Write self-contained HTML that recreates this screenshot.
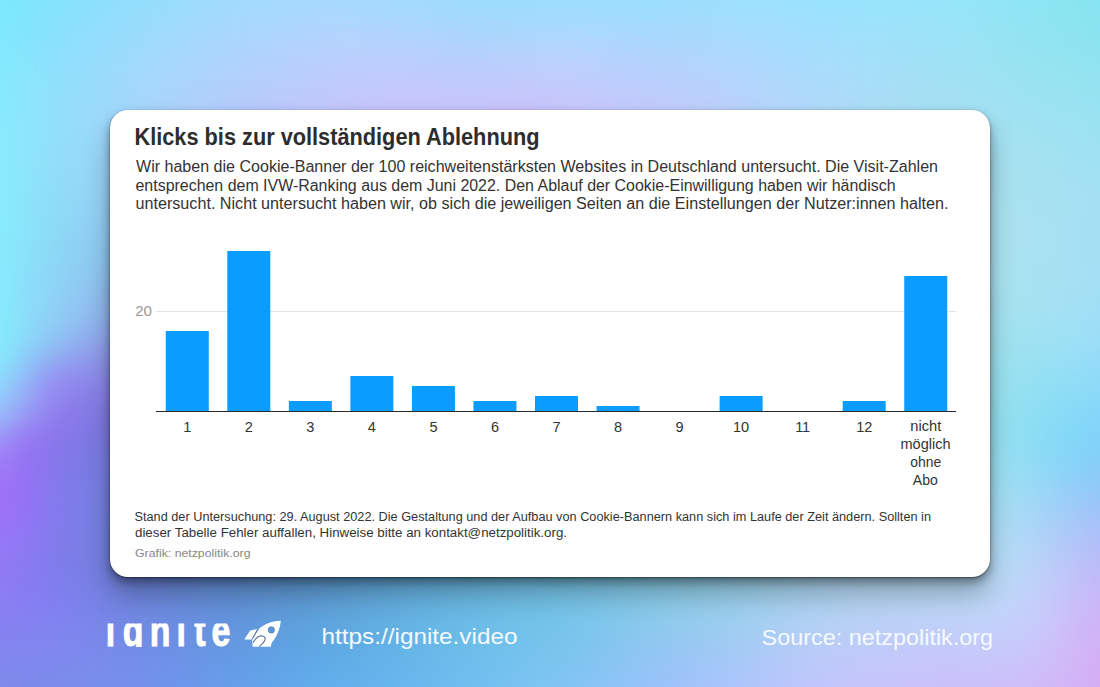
<!DOCTYPE html>
<html lang="de">
<head>
<meta charset="utf-8">
<title>Klicks bis zur vollständigen Ablehnung</title>
<style>
html,body{margin:0;padding:0;}
body{width:1100px;height:687px;overflow:hidden;position:relative;font-family:"Liberation Sans",Arial,sans-serif;background:#8fc8f2;}
#bgwrap{position:absolute;left:0;top:0;width:1100px;height:687px;overflow:hidden;}
#bg{position:absolute;left:-50px;top:-48px;width:1200px;height:790px;filter:blur(8px);}
#bg div{position:absolute;left:0;width:1200px;height:13px;}
.card{position:absolute;left:110px;top:110px;width:880px;height:467px;background:#fff;border-radius:18px;box-shadow:0 0 1px rgba(0,0,0,0.2),0 1px 2px rgba(0,0,0,0.4),0 5px 10px rgba(0,0,0,0.35),0 18px 26px rgba(0,0,0,0.25);}
svg.ov{position:absolute;left:0;top:0;}
</style>
</head>
<body>
<div id="bgwrap"><div id="bg"><div style="top:0px;background:linear-gradient(90deg,#7aeafc 0px,#7aeafc 25px,#7aeafc 50px,#7ee7fc 75px,#82e4fc 100px,#87e2fc 125px,#8ce0fc 150px,#90dffc 175px,#94ddfc 200px,#98dcfc 225px,#9cdcfd 250px,#9fdbfd 275px,#a2dbfe 300px,#a4dafe 325px,#a5dafe 350px,#a6dafe 375px,#a5dafe 400px,#a4dbfe 425px,#a2dbfe 450px,#a0dbfe 475px,#9ddcfd 500px,#9bdcfc 525px,#9addfc 550px,#9addfd 575px,#9bdefe 600px,#9bdefe 625px,#9bdefe 650px,#9bdefe 675px,#9adffe 700px,#9bdffe 725px,#9bdffd 750px,#9be0fd 775px,#9be1fd 800px,#9be2fd 825px,#9ae2fd 850px,#99e3fd 875px,#99e4fc 900px,#98e4fb 925px,#97e4fb 950px,#97e5fa 975px,#95e5f9 1000px,#93e5f7 1025px,#90e5f5 1050px,#8de5f3 1075px,#8ae5f2 1100px,#87e5f0 1125px,#85e5f0 1150px,#85e5f0 1175px,#85e5f0 1200px)"></div><div style="top:12px;background:linear-gradient(90deg,#7aeafc 0px,#7aeafc 25px,#7aeafc 50px,#7ee7fc 75px,#82e4fc 100px,#87e2fc 125px,#8ce0fc 150px,#90dffc 175px,#94ddfc 200px,#98dcfc 225px,#9cdcfd 250px,#9fdbfd 275px,#a2dbfe 300px,#a4dafe 325px,#a5dafe 350px,#a6dafe 375px,#a5dafe 400px,#a4dbfe 425px,#a2dbfe 450px,#a0dbfe 475px,#9ddcfd 500px,#9bdcfc 525px,#9addfc 550px,#9addfd 575px,#9bdefe 600px,#9bdefe 625px,#9bdefe 650px,#9bdefe 675px,#9adffe 700px,#9bdffe 725px,#9bdffd 750px,#9be0fd 775px,#9be1fd 800px,#9be2fd 825px,#9ae2fd 850px,#99e3fd 875px,#99e4fc 900px,#98e4fb 925px,#97e4fb 950px,#97e5fa 975px,#95e5f9 1000px,#93e5f7 1025px,#90e5f5 1050px,#8de5f3 1075px,#8ae5f2 1100px,#87e5f0 1125px,#85e5f0 1150px,#85e5f0 1175px,#85e5f0 1200px)"></div><div style="top:24px;background:linear-gradient(90deg,#7aeafc 0px,#7aeafc 25px,#7aeafc 50px,#7ee7fc 75px,#82e4fc 100px,#87e2fc 125px,#8ce0fc 150px,#90dffc 175px,#94ddfc 200px,#98dcfc 225px,#9cdcfd 250px,#9fdbfd 275px,#a2dbfe 300px,#a4dafe 325px,#a5dafe 350px,#a6dafe 375px,#a5dafe 400px,#a4dbfe 425px,#a2dbfe 450px,#a0dbfe 475px,#9ddcfd 500px,#9bdcfc 525px,#9addfc 550px,#9addfd 575px,#9bdefe 600px,#9bdefe 625px,#9bdefe 650px,#9bdefe 675px,#9adffe 700px,#9bdffe 725px,#9bdffd 750px,#9be0fd 775px,#9be1fd 800px,#9be2fd 825px,#9ae2fd 850px,#99e3fd 875px,#99e4fc 900px,#98e4fb 925px,#97e4fb 950px,#97e5fa 975px,#95e5f9 1000px,#93e5f7 1025px,#90e5f5 1050px,#8de5f3 1075px,#8ae5f2 1100px,#87e5f0 1125px,#85e5f0 1150px,#85e5f0 1175px,#85e5f0 1200px)"></div><div style="top:36px;background:linear-gradient(90deg,#7aeafc 0px,#7aeafc 25px,#7aeafc 50px,#7ee7fc 75px,#82e4fc 100px,#87e2fc 125px,#8ce0fc 150px,#90dffc 175px,#94ddfc 200px,#98dcfc 225px,#9cdcfd 250px,#9fdbfd 275px,#a2dbfe 300px,#a4dafe 325px,#a5dafe 350px,#a6dafe 375px,#a5dafe 400px,#a4dbfe 425px,#a2dbfe 450px,#a0dbfe 475px,#9ddcfd 500px,#9bdcfc 525px,#9addfc 550px,#9addfd 575px,#9bdefe 600px,#9bdefe 625px,#9bdefe 650px,#9bdefe 675px,#9adffe 700px,#9bdffe 725px,#9bdffd 750px,#9be0fd 775px,#9be1fd 800px,#9be2fd 825px,#9ae2fd 850px,#99e3fd 875px,#99e4fc 900px,#98e4fb 925px,#97e4fb 950px,#97e5fa 975px,#95e5f9 1000px,#93e5f7 1025px,#90e5f5 1050px,#8de5f3 1075px,#8ae5f2 1100px,#87e5f0 1125px,#85e5f0 1150px,#85e5f0 1175px,#85e5f0 1200px)"></div><div style="top:48px;background:linear-gradient(90deg,#7beafc 0px,#7beafc 25px,#7beafc 50px,#7fe6fc 75px,#83e3fc 100px,#88e1fc 125px,#8ddffc 150px,#92defc 175px,#96ddfc 200px,#9adcfc 225px,#9edbfd 250px,#a1dafd 275px,#a3dafe 300px,#a5d9fe 325px,#a7d9fe 350px,#a8d9fe 375px,#a8d9fe 400px,#a6d9fe 425px,#a4dafe 450px,#a2dafe 475px,#a0dbfd 500px,#9edbfc 525px,#9cdcfc 550px,#9ddcfd 575px,#9eddfe 600px,#9eddfe 625px,#9eddfe 650px,#9dddfe 675px,#9cdefe 700px,#9ddefe 725px,#9ddefd 750px,#9ddffd 775px,#9de0fd 800px,#9ce1fd 825px,#9be2fd 850px,#9be3fd 875px,#9ae3fc 900px,#99e4fb 925px,#99e4fa 950px,#98e4fa 975px,#96e5f8 1000px,#94e5f7 1025px,#91e5f5 1050px,#8ee5f3 1075px,#8be5f2 1100px,#88e5f0 1125px,#86e4f0 1150px,#86e4f0 1175px,#86e4f0 1200px)"></div><div style="top:60px;background:linear-gradient(90deg,#7ceafc 0px,#7ceafc 25px,#7ceafc 50px,#81e5fc 75px,#85e2fc 100px,#8be0fc 125px,#90dffc 150px,#94ddfc 175px,#99dcfc 200px,#9ddbfc 225px,#a1dafd 250px,#a4d9fd 275px,#a7d8fe 300px,#a9d8fe 325px,#abd7fe 350px,#acd7fe 375px,#acd7fe 400px,#abd7fe 425px,#a9d7fe 450px,#a7d8fe 475px,#a5d8fd 500px,#a4d9fc 525px,#a3d9fc 550px,#a3dafd 575px,#a4dafe 600px,#a4dbfe 625px,#a3dbfe 650px,#a2dbfe 675px,#a1dbfe 700px,#a1dcfe 725px,#a2dcfd 750px,#a2ddfd 775px,#a1defc 800px,#a0dffc 825px,#9ee0fd 850px,#9de1fc 875px,#9de2fc 900px,#9ce3fb 925px,#9be3fa 950px,#9ae3f9 975px,#99e4f8 1000px,#96e4f6 1025px,#93e4f4 1050px,#90e4f3 1075px,#8de4f1 1100px,#8ae4f0 1125px,#88e4f0 1150px,#88e4f0 1175px,#88e4f0 1200px)"></div><div style="top:72px;background:linear-gradient(90deg,#7ee9fc 0px,#7ee9fc 25px,#7ee9fc 50px,#82e5fc 75px,#87e2fc 100px,#8de0fc 125px,#92defc 150px,#97dcfc 175px,#9cdbfc 200px,#a0dafc 225px,#a4d8fd 250px,#a7d7fd 275px,#aad6fd 300px,#acd6fe 325px,#aed5fe 350px,#b0d5fe 375px,#b1d5fd 400px,#b0d5fe 425px,#aed5fe 450px,#add5fd 475px,#abd5fd 500px,#a9d6fc 525px,#a9d7fc 550px,#a9d7fd 575px,#aad8fe 600px,#aad8fe 625px,#a9d9fe 650px,#a8d9fe 675px,#a6d9fe 700px,#a6dafd 725px,#a6dafd 750px,#a6dbfc 775px,#a5ddfc 800px,#a3defc 825px,#a1dffc 850px,#a0e0fc 875px,#9fe1fb 900px,#9ee2fa 925px,#9de2f9 950px,#9ce3f8 975px,#9ae3f7 1000px,#98e3f5 1025px,#95e4f4 1050px,#92e4f2 1075px,#8fe4f1 1100px,#8ce4f0 1125px,#8ae3f0 1150px,#8ae3f0 1175px,#8ae3f0 1200px)"></div><div style="top:84px;background:linear-gradient(90deg,#80e9fd 0px,#80e9fd 25px,#80e9fd 50px,#84e5fc 75px,#89e1fc 100px,#8fdffc 125px,#94ddfc 150px,#99dbfc 175px,#9edafc 200px,#a2d8fd 225px,#a6d7fd 250px,#aad6fd 275px,#add5fd 300px,#afd4fd 325px,#b2d3fd 350px,#b4d3fd 375px,#b5d3fd 400px,#b5d2fd 425px,#b4d2fe 450px,#b2d3fd 475px,#b0d3fd 500px,#afd3fc 525px,#afd4fc 550px,#b0d5fd 575px,#b1d6fe 600px,#b0d6fe 625px,#afd6fe 650px,#add6fe 675px,#acd7fe 700px,#abd7fd 725px,#abd8fd 750px,#aad9fc 775px,#a8dbfc 800px,#a6ddfc 825px,#a4defc 850px,#a3dffc 875px,#a1e0fb 900px,#a0e1fa 925px,#9fe1f8 950px,#9ee2f7 975px,#9ce2f6 1000px,#9ae3f5 1025px,#97e3f3 1050px,#94e3f2 1075px,#91e4f1 1100px,#8ee3f0 1125px,#8ce3f0 1150px,#8ce3f0 1175px,#8ce3f0 1200px)"></div><div style="top:96px;background:linear-gradient(90deg,#81e9fd 0px,#81e9fd 25px,#81e9fd 50px,#86e5fc 75px,#8be1fc 100px,#91dffc 125px,#96dcfc 150px,#9cdbfc 175px,#a1d9fc 200px,#a5d7fd 225px,#a9d6fd 250px,#acd4fd 275px,#afd3fd 300px,#b2d2fd 325px,#b5d1fd 350px,#b7d1fd 375px,#b9d0fd 400px,#b9d0fd 425px,#b8d0fd 450px,#b7d0fd 475px,#b6d0fd 500px,#b5d0fc 525px,#b5d1fc 550px,#b6d2fd 575px,#b7d3fe 600px,#b6d3fe 625px,#b4d3fe 650px,#b2d4fe 675px,#b1d4fd 700px,#b0d5fd 725px,#afd6fd 750px,#add8fc 775px,#abd9fc 800px,#a9dbfc 825px,#a7ddfc 850px,#a5defb 875px,#a4dffa 900px,#a2e0f9 925px,#a1e0f8 950px,#9fe1f6 975px,#9ee2f5 1000px,#9be2f4 1025px,#99e3f3 1050px,#96e3f2 1075px,#93e3f1 1100px,#91e3f0 1125px,#8ee3f0 1150px,#8ee3f0 1175px,#8ee3f0 1200px)"></div><div style="top:108px;background:linear-gradient(90deg,#83e9fd 0px,#83e9fd 25px,#83e9fd 50px,#88e5fc 75px,#8de1fc 100px,#92defc 125px,#98dcfc 150px,#9edafc 175px,#a3d8fc 200px,#a7d6fc 225px,#abd4fc 250px,#aed3fc 275px,#b1d1fd 300px,#b4d0fd 325px,#b7cffd 350px,#bacefd 375px,#bccefc 400px,#bdcdfd 425px,#bdcdfd 450px,#bccdfd 475px,#bbcdfc 500px,#bacefc 525px,#bacefc 550px,#bccffd 575px,#bdd0fd 600px,#bcd0fd 625px,#b9d1fd 650px,#b7d1fd 675px,#b5d2fd 700px,#b4d3fd 725px,#b3d4fd 750px,#b1d6fc 775px,#afd8fc 800px,#acdafc 825px,#a9dbfc 850px,#a7ddfb 875px,#a6defa 900px,#a4dff8 925px,#a3e0f7 950px,#a1e0f5 975px,#9fe1f4 1000px,#9de2f3 1025px,#9be2f2 1050px,#98e3f2 1075px,#95e3f1 1100px,#93e3f1 1125px,#90e3f1 1150px,#90e3f1 1175px,#90e3f1 1200px)"></div><div style="top:120px;background:linear-gradient(90deg,#84e9fd 0px,#84e9fd 25px,#84e9fd 50px,#89e5fc 75px,#8ee1fc 100px,#94defc 125px,#99dbfc 150px,#9fd9fc 175px,#a5d7fc 200px,#a9d5fc 225px,#acd3fc 250px,#b0d1fc 275px,#b3cffc 300px,#b6cefc 325px,#b9cdfc 350px,#bcccfc 375px,#bfcbfc 400px,#c0cbfc 425px,#c1cbfd 450px,#c0cafc 475px,#bfcbfc 500px,#becbfc 525px,#bfcbfc 550px,#c0ccfc 575px,#c2cdfd 600px,#c0cdfd 625px,#bdcefd 650px,#bbcffd 675px,#b9d0fd 700px,#b8d1fd 725px,#b7d2fc 750px,#b4d4fc 775px,#b2d6fc 800px,#afd8fb 825px,#acdafb 850px,#aadcfa 875px,#a8ddf9 900px,#a6def8 925px,#a4dff6 950px,#a3e0f4 975px,#a1e0f3 1000px,#9fe1f2 1025px,#9ce2f2 1050px,#9ae2f1 1075px,#97e3f1 1100px,#95e3f1 1125px,#93e2f1 1150px,#93e2f1 1175px,#93e2f1 1200px)"></div><div style="top:132px;background:linear-gradient(90deg,#85eafd 0px,#85eafd 25px,#85eafd 50px,#8ae5fc 75px,#8fe1fc 100px,#95ddfc 125px,#9bdbfc 150px,#a0d8fc 175px,#a6d6fc 200px,#aad4fc 225px,#aed1fc 250px,#b1cffb 275px,#b5cdfb 300px,#b8ccfb 325px,#bbcbfb 350px,#becafb 375px,#c1c9fb 400px,#c3c8fc 425px,#c4c8fc 450px,#c3c8fc 475px,#c3c8fb 500px,#c2c8fb 525px,#c3c8fb 550px,#c4c8fb 575px,#c4c9fc 600px,#c3cafc 625px,#c1cbfc 650px,#bfccfc 675px,#bdcdfc 700px,#bbcffc 725px,#bad0fc 750px,#b7d2fc 775px,#b4d5fb 800px,#b1d7fb 825px,#aed9fa 850px,#acdbfa 875px,#aadcf8 900px,#a8ddf7 925px,#a6def5 950px,#a4dff3 975px,#a2e0f2 1000px,#a0e1f1 1025px,#9ee2f1 1050px,#9ce2f1 1075px,#99e2f1 1100px,#97e2f1 1125px,#95e2f1 1150px,#95e2f1 1175px,#95e2f1 1200px)"></div><div style="top:144px;background:linear-gradient(90deg,#86eafd 0px,#86eafd 25px,#86eafd 50px,#8be5fc 75px,#90e0fc 100px,#96ddfc 125px,#9bdafb 150px,#a1d7fb 175px,#a7d5fb 200px,#abd2fb 225px,#afd0fb 250px,#b2cdfb 275px,#b6cbfb 300px,#b9cafb 325px,#bdc8fb 350px,#c0c7fb 375px,#c3c7fb 400px,#c5c6fb 425px,#c6c5fb 450px,#c6c5fb 475px,#c5c5fb 500px,#c5c5fb 525px,#c6c5fb 550px,#c6c5fb 575px,#c6c6fb 600px,#c6c7fb 625px,#c4c9fc 650px,#c2cafc 675px,#c0cbfc 700px,#becdfc 725px,#bdcefb 750px,#bad1fb 775px,#b7d3fb 800px,#b3d6fa 825px,#b0d8fa 850px,#aedaf9 875px,#abdbf7 900px,#a9ddf6 925px,#a7def4 950px,#a5dff3 975px,#a3e0f1 1000px,#a2e1f1 1025px,#a0e1f1 1050px,#9de2f1 1075px,#9be2f1 1100px,#99e2f2 1125px,#97e2f2 1150px,#97e2f2 1175px,#97e2f2 1200px)"></div><div style="top:156px;background:linear-gradient(90deg,#87eafd 0px,#87eafd 25px,#87eafd 50px,#8ce5fc 75px,#91e0fc 100px,#96dcfb 125px,#9cd9fb 150px,#a1d6fb 175px,#a7d3fb 200px,#abd0fa 225px,#afcefa 250px,#b3cbfa 275px,#b6c9fa 300px,#bac7fa 325px,#bdc6fa 350px,#c1c5fa 375px,#c4c4fa 400px,#c6c4fa 425px,#c8c3fa 450px,#c8c3fa 475px,#c8c3fa 500px,#c8c3fa 525px,#c8c2fa 550px,#c8c2fa 575px,#c8c3fa 600px,#c7c5fa 625px,#c6c7fb 650px,#c4c8fb 675px,#c2cafb 700px,#c1cbfb 725px,#bfcdfb 750px,#bccffa 775px,#b9d2fa 800px,#b5d5fa 825px,#b2d7f9 850px,#afd9f8 875px,#addbf7 900px,#abdcf5 925px,#a9ddf4 950px,#a7def2 975px,#a5dff1 1000px,#a3e0f1 1025px,#a1e1f1 1050px,#9fe2f1 1075px,#9de2f1 1100px,#9be2f2 1125px,#98e2f2 1150px,#98e2f2 1175px,#98e2f2 1200px)"></div><div style="top:168px;background:linear-gradient(90deg,#88eafd 0px,#88eafd 25px,#88eafd 50px,#8ce5fc 75px,#91e0fb 100px,#96dcfb 125px,#9cd8fa 150px,#a1d5fa 175px,#a6d2fa 200px,#abcff9 225px,#afccf9 250px,#b3c9f9 275px,#b7c7f9 300px,#bac5f9 325px,#bec4f9 350px,#c1c3f9 375px,#c4c2f9 400px,#c7c1f9 425px,#c9c1f9 450px,#c9c0f9 475px,#c9c0f9 500px,#c9c0f9 525px,#c9c0f9 550px,#cac0f9 575px,#c9c1f9 600px,#c9c3fa 625px,#c8c4fa 650px,#c6c6fa 675px,#c4c8fa 700px,#c2cafa 725px,#c0ccfa 750px,#bdcefa 775px,#bad1f9 800px,#b7d4f9 825px,#b4d6f8 850px,#b1d8f7 875px,#afdaf6 900px,#acdcf4 925px,#aaddf3 950px,#a8def2 975px,#a6dff1 1000px,#a4e0f0 1025px,#a3e1f0 1050px,#a1e2f1 1075px,#9fe2f1 1100px,#9de2f2 1125px,#9ae2f2 1150px,#9ae2f2 1175px,#9ae2f2 1200px)"></div><div style="top:180px;background:linear-gradient(90deg,#88ebfd 0px,#88ebfd 25px,#88ebfd 50px,#8de5fc 75px,#91e0fb 100px,#96dbfa 125px,#9bd7fa 150px,#a1d3f9 175px,#a6d0f9 200px,#aacdf8 225px,#afcaf8 250px,#b3c7f8 275px,#b6c5f7 300px,#bac3f7 325px,#bec2f7 350px,#c1c0f8 375px,#c5bff8 400px,#c7bff8 425px,#c9bef8 450px,#cabef8 475px,#cabef8 500px,#cabef8 525px,#cabef8 550px,#cbbef8 575px,#cabff8 600px,#cac1f9 625px,#c9c3f9 650px,#c7c5f9 675px,#c5c7f9 700px,#c4c9f9 725px,#c1cbf9 750px,#bfcef9 775px,#bbd0f8 800px,#b8d3f8 825px,#b5d5f7 850px,#b2d8f6 875px,#b0daf5 900px,#aedbf4 925px,#abddf2 950px,#a9def1 975px,#a8dff0 1000px,#a6e0f0 1025px,#a4e1f0 1050px,#a2e2f1 1075px,#a0e2f1 1100px,#9ee2f2 1125px,#9ce1f2 1150px,#9ce1f2 1175px,#9ce1f2 1200px)"></div><div style="top:192px;background:linear-gradient(90deg,#89ebfd 0px,#89ebfd 25px,#89ebfd 50px,#8de5fc 75px,#91dffb 100px,#96dafa 125px,#9bd6f9 150px,#a0d2f8 175px,#a5cef8 200px,#a9cbf7 225px,#aec8f7 250px,#b2c5f6 275px,#b6c3f6 300px,#bac1f6 325px,#bdbff6 350px,#c1bef6 375px,#c4bdf6 400px,#c7bdf7 425px,#c9bcf7 450px,#cabcf7 475px,#cabcf7 500px,#cbbcf7 525px,#cbbcf7 550px,#cbbcf7 575px,#cbbdf7 600px,#cabff8 625px,#c9c1f8 650px,#c8c3f8 675px,#c6c5f8 700px,#c4c8f8 725px,#c2caf8 750px,#bfcdf8 775px,#bcd0f8 800px,#b9d2f7 825px,#b6d5f6 850px,#b3d7f5 875px,#b1d9f4 900px,#afdbf3 925px,#acddf2 950px,#abdef1 975px,#a9dff0 1000px,#a7e0f0 1025px,#a5e1f0 1050px,#a4e1f1 1075px,#a2e2f1 1100px,#a0e2f2 1125px,#9de1f2 1150px,#9de1f2 1175px,#9de1f2 1200px)"></div><div style="top:204px;background:linear-gradient(90deg,#89ebfd 0px,#89ebfd 25px,#89ebfd 50px,#8de5fb 75px,#91dffa 100px,#95daf9 125px,#9ad5f8 150px,#9fd1f7 175px,#a4cdf6 200px,#a8c9f6 225px,#adc6f5 250px,#b1c3f5 275px,#b5c0f5 300px,#b9bef5 325px,#bdbdf5 350px,#c0bcf5 375px,#c3bbf5 400px,#c6baf5 425px,#c8baf5 450px,#c9baf6 475px,#cabaf6 500px,#cbbaf6 525px,#cbbaf6 550px,#cbbbf6 575px,#cbbcf6 600px,#cabef6 625px,#c9c0f7 650px,#c8c2f7 675px,#c7c4f7 700px,#c5c7f7 725px,#c3c9f7 750px,#c0ccf7 775px,#bdcff7 800px,#bad2f6 825px,#b7d4f5 850px,#b4d7f4 875px,#b2d9f3 900px,#afdbf2 925px,#addcf1 950px,#abdef0 975px,#aadff0 1000px,#a8e0f0 1025px,#a7e1f0 1050px,#a5e1f0 1075px,#a3e2f1 1100px,#a1e1f2 1125px,#9fe1f2 1150px,#9fe1f2 1175px,#9fe1f2 1200px)"></div><div style="top:216px;background:linear-gradient(90deg,#89ecfd 0px,#89ecfd 25px,#89ecfd 50px,#8ce5fb 75px,#90defa 100px,#94d9f8 125px,#99d4f7 150px,#9dcff6 175px,#a2cbf5 200px,#a7c7f4 225px,#abc3f4 250px,#b0c0f4 275px,#b4bef3 300px,#b8bcf3 325px,#bbbbf3 350px,#bfb9f3 375px,#c2b9f4 400px,#c5b8f4 425px,#c7b8f4 450px,#c9b8f4 475px,#cab8f4 500px,#cab8f4 525px,#cbb9f5 550px,#cbbaf5 575px,#cbbbf5 600px,#cabdf5 625px,#c9bff6 650px,#c8c1f6 675px,#c7c4f6 700px,#c5c6f6 725px,#c3c9f6 750px,#c0ccf6 775px,#bdcef6 800px,#bad1f5 825px,#b8d4f4 850px,#b5d7f4 875px,#b2d9f3 900px,#b0dbf2 925px,#aedcf1 950px,#acdef0 975px,#abdff0 1000px,#a9e0ef 1025px,#a8e1f0 1050px,#a6e1f0 1075px,#a4e1f1 1100px,#a2e1f2 1125px,#a0e0f2 1150px,#a0e0f2 1175px,#a0e0f2 1200px)"></div><div style="top:228px;background:linear-gradient(90deg,#88ecfc 0px,#88ecfc 25px,#88ecfc 50px,#8ce5fb 75px,#8fdef9 100px,#93d8f7 125px,#97d2f6 150px,#9ccdf5 175px,#a1c9f4 200px,#a5c5f3 225px,#aac1f2 250px,#aebef2 275px,#b2bcf2 300px,#b6baf2 325px,#bab8f2 350px,#bdb7f2 375px,#c1b7f2 400px,#c3b6f2 425px,#c6b6f3 450px,#c7b6f3 475px,#c8b6f3 500px,#c9b7f3 525px,#cab7f3 550px,#cab8f4 575px,#cabaf4 600px,#cabcf4 625px,#c9bef5 650px,#c8c0f5 675px,#c6c3f5 700px,#c5c6f5 725px,#c2c8f5 750px,#c0cbf5 775px,#bdcef5 800px,#bbd1f4 825px,#b8d4f3 850px,#b5d6f3 875px,#b3d9f2 900px,#b1dbf1 925px,#afdcf0 950px,#addef0 975px,#abdfef 1000px,#aae0ef 1025px,#a8e1f0 1050px,#a7e1f0 1075px,#a5e1f1 1100px,#a4e1f2 1125px,#a1e0f2 1150px,#a1e0f2 1175px,#a1e0f2 1200px)"></div><div style="top:240px;background:linear-gradient(90deg,#88ecfc 0px,#88ecfc 25px,#88ecfc 50px,#8be4fa 75px,#8eddf8 100px,#92d7f6 125px,#96d1f5 150px,#9acbf3 175px,#9fc6f2 200px,#a4c2f2 225px,#a8bef1 250px,#acbbf1 275px,#b0b9f0 300px,#b4b7f0 325px,#b8b6f0 350px,#bcb5f0 375px,#bfb4f1 400px,#c2b4f1 425px,#c4b4f1 450px,#c6b4f1 475px,#c7b5f2 500px,#c8b5f2 525px,#c8b6f2 550px,#c9b7f2 575px,#c9b9f3 600px,#c9bbf3 625px,#c8bdf3 650px,#c7c0f4 675px,#c6c2f4 700px,#c4c5f4 725px,#c2c8f4 750px,#c0cbf4 775px,#bdcef4 800px,#bbd1f3 825px,#b8d4f3 850px,#b6d6f2 875px,#b3d9f1 900px,#b1dbf0 925px,#afdcf0 950px,#addeef 975px,#acdfef 1000px,#aae0ef 1025px,#a9e1ef 1050px,#a8e1f0 1075px,#a6e1f1 1100px,#a5e1f2 1125px,#a2e0f2 1150px,#a2e0f2 1175px,#a2e0f2 1200px)"></div><div style="top:252px;background:linear-gradient(90deg,#88ecfc 0px,#88ecfc 25px,#88ecfc 50px,#8be4fa 75px,#8eddf8 100px,#91d6f6 125px,#95cff4 150px,#99c9f2 175px,#9dc4f1 200px,#a2c0f0 225px,#a6bcef 250px,#aab9ef 275px,#aeb6ef 300px,#b2b5ee 325px,#b6b3ef 350px,#b9b3ef 375px,#bdb2ef 400px,#bfb2ef 425px,#c2b2f0 450px,#c4b3f0 475px,#c5b3f0 500px,#c6b4f0 525px,#c7b5f1 550px,#c7b6f1 575px,#c7b8f1 600px,#c7baf2 625px,#c7bdf2 650px,#c6bff3 675px,#c5c2f3 700px,#c3c5f3 725px,#c1c8f3 750px,#bfcbf3 775px,#bdcef3 800px,#bad1f2 825px,#b8d4f2 850px,#b6d6f1 875px,#b3d9f0 900px,#b1dbf0 925px,#afddef 950px,#aedeef 975px,#acdfef 1000px,#abe0ef 1025px,#aae1ef 1050px,#a8e1f0 1075px,#a7e1f1 1100px,#a5e1f2 1125px,#a3e0f2 1150px,#a3e0f2 1175px,#a3e0f2 1200px)"></div><div style="top:264px;background:linear-gradient(90deg,#87ecfc 0px,#87ecfc 25px,#87ecfc 50px,#8ae4fa 75px,#8ddcf7 100px,#90d5f5 125px,#93cef3 150px,#97c7f1 175px,#9cc2f0 200px,#a0bdef 225px,#a4b9ee 250px,#a8b6ed 275px,#acb4ed 300px,#b0b2ed 325px,#b4b1ed 350px,#b7b1ed 375px,#bab0ed 400px,#bdb0ee 425px,#bfb1ee 450px,#c1b1ee 475px,#c3b2ef 500px,#c4b3ef 525px,#c5b4ef 550px,#c5b6f0 575px,#c6b7f0 600px,#c6baf1 625px,#c5bcf1 650px,#c4bff1 675px,#c3c2f2 700px,#c2c5f2 725px,#c0c8f2 750px,#becbf2 775px,#bccef1 800px,#bad1f1 825px,#b8d4f1 850px,#b5d6f0 875px,#b3d9f0 900px,#b1dbef 925px,#afddef 950px,#aedeee 975px,#acdfee 1000px,#abe0ef 1025px,#aae1ef 1050px,#a9e1f0 1075px,#a8e1f1 1100px,#a6e0f2 1125px,#a4dff2 1150px,#a4dff2 1175px,#a4dff2 1200px)"></div><div style="top:276px;background:linear-gradient(90deg,#87ecfc 0px,#87ecfc 25px,#87ecfc 50px,#8ae3fa 75px,#8cdbf7 100px,#8fd3f4 125px,#92ccf2 150px,#96c5f0 175px,#9abfee 200px,#9ebaed 225px,#a2b6ec 250px,#a6b3ec 275px,#aab1eb 300px,#adb0eb 325px,#b1afeb 350px,#b4aeeb 375px,#b8aeec 400px,#baafec 425px,#bdafec 450px,#bfb0ed 475px,#c1b1ed 500px,#c2b2ee 525px,#c3b3ee 550px,#c3b5ef 575px,#c4b7ef 600px,#c4b9ef 625px,#c3bcf0 650px,#c3bff0 675px,#c2c1f0 700px,#c1c5f1 725px,#bfc8f1 750px,#bdcbf1 775px,#bbcef0 800px,#b9d1f0 825px,#b7d4f0 850px,#b5d6ef 875px,#b3d9ef 900px,#b1dbef 925px,#afddee 950px,#aedeee 975px,#ace0ee 1000px,#abe1ef 1025px,#aae1ef 1050px,#a9e1f0 1075px,#a8e1f1 1100px,#a6e0f2 1125px,#a4dff3 1150px,#a4dff3 1175px,#a4dff3 1200px)"></div><div style="top:288px;background:linear-gradient(90deg,#87ecfc 0px,#87ecfc 25px,#87ecfc 50px,#8ae2f9 75px,#8cdaf7 100px,#8ed2f3 125px,#91caf1 150px,#95c3ef 175px,#98bced 200px,#9cb7ec 225px,#a0b3eb 250px,#a4b0ea 275px,#a7aeea 300px,#abade9 325px,#aeace9 350px,#b2acea 375px,#b5acea 400px,#b8adea 425px,#baaeeb 450px,#bcaeeb 475px,#beb0ec 500px,#bfb1ec 525px,#c0b3ed 550px,#c1b4ed 575px,#c1b7ee 600px,#c2b9ee 625px,#c1bcef 650px,#c1beef 675px,#c0c1ef 700px,#bfc5ef 725px,#bec8f0 750px,#bccbf0 775px,#baceef 800px,#b8d1ef 825px,#b6d4ef 850px,#b4d7ef 875px,#b3d9ee 900px,#b1dbee 925px,#afddee 950px,#addfee 975px,#ace0ee 1000px,#abe1ee 1025px,#aae1ef 1050px,#a9e1f0 1075px,#a8e1f1 1100px,#a6e0f2 1125px,#a4dff3 1150px,#a4dff3 1175px,#a4dff3 1200px)"></div><div style="top:300px;background:linear-gradient(90deg,#87ebfc 0px,#87ebfc 25px,#87ebfc 50px,#8ae1f9 75px,#8cd9f6 100px,#8ed0f3 125px,#90c8f0 150px,#93c0ee 175px,#97b9ec 200px,#9ab4ea 225px,#9eb0e9 250px,#a1ade8 275px,#a4ace8 300px,#a8abe8 325px,#abaae8 350px,#afaae8 375px,#b2abe8 400px,#b5abe9 425px,#b7ace9 450px,#b9adea 475px,#bbafea 500px,#bcb0eb 525px,#beb2eb 550px,#beb4ec 575px,#bfb6ec 600px,#bfb9ed 625px,#bfbbed 650px,#bfbeee 675px,#bec1ee 700px,#bdc5ee 725px,#bcc8ee 750px,#bbcbef 775px,#b9ceee 800px,#b7d1ee 825px,#b6d4ee 850px,#b4d7ee 875px,#b2d9ee 900px,#b0dced 925px,#aedded 950px,#addfed 975px,#ace0ee 1000px,#abe1ee 1025px,#aae1ef 1050px,#a9e2f0 1075px,#a8e1f1 1100px,#a6e0f2 1125px,#a4dff3 1150px,#a4dff3 1175px,#a4dff3 1200px)"></div><div style="top:312px;background:linear-gradient(90deg,#87ebfc 0px,#87ebfc 25px,#87ebfc 50px,#8ae0fa 75px,#8dd7f6 100px,#8ecef3 125px,#90c5ef 150px,#93bded 175px,#95b6ea 200px,#98b1e9 225px,#9bade7 250px,#9eaae7 275px,#a2a9e6 300px,#a5a8e6 325px,#a8a8e6 350px,#aba8e6 375px,#aea9e6 400px,#b1aae7 425px,#b4abe8 450px,#b6ace8 475px,#b8aee9 500px,#b9afe9 525px,#bbb1ea 550px,#bcb4eb 575px,#bcb6eb 600px,#bdb9ec 625px,#bdbbec 650px,#bdbeed 675px,#bcc2ed 700px,#bbc5ed 725px,#bbc8ed 750px,#b9cbed 775px,#b8ceed 800px,#b6d2ed 825px,#b5d4ed 850px,#b3d7ed 875px,#b1daed 900px,#afdced 925px,#aedeed 950px,#acdfed 975px,#abe0ed 1000px,#aae1ee 1025px,#a9e2ef 1050px,#a8e2f0 1075px,#a7e1f1 1100px,#a6e0f2 1125px,#a3dff4 1150px,#a3dff4 1175px,#a3dff4 1200px)"></div><div style="top:324px;background:linear-gradient(90deg,#87ebfc 0px,#87ebfc 25px,#87ebfc 50px,#8bdffa 75px,#8ed6f7 100px,#8fccf3 125px,#90c2ef 150px,#92b9ec 175px,#94b2e9 200px,#96ade7 225px,#99aae6 250px,#9ca7e5 275px,#9fa6e4 300px,#a2a6e4 325px,#a5a6e4 350px,#a8a6e4 375px,#aba7e5 400px,#aea8e5 425px,#b0aae6 450px,#b3abe7 475px,#b5ade7 500px,#b6afe8 525px,#b8b1e9 550px,#b9b3e9 575px,#b9b6ea 600px,#bab9ea 625px,#babceb 650px,#babfeb 675px,#bac2ec 700px,#b9c5ec 725px,#b9c8ec 750px,#b8ccec 775px,#b6cfed 800px,#b5d2ed 825px,#b4d5ed 850px,#b2d8ec 875px,#b0daec 900px,#afdcec 925px,#addeec 950px,#acdfed 975px,#aae1ed 1000px,#a9e1ee 1025px,#a8e2ef 1050px,#a7e2f0 1075px,#a6e1f2 1100px,#a5e0f3 1125px,#a3dff4 1150px,#a3dff4 1175px,#a3dff4 1200px)"></div><div style="top:336px;background:linear-gradient(90deg,#87ebfc 0px,#87ebfc 25px,#87ebfc 50px,#8bdefa 75px,#8fd5f7 100px,#90caf3 125px,#90beee 150px,#91b5eb 175px,#92aee8 200px,#94a9e6 225px,#96a6e4 250px,#99a4e3 275px,#9ca3e3 300px,#9fa3e2 325px,#a2a3e2 350px,#a5a4e3 375px,#a8a5e3 400px,#aaa7e4 425px,#ada8e4 450px,#afaae5 475px,#b1ace6 500px,#b3aee7 525px,#b4b1e7 550px,#b5b3e8 575px,#b6b6e9 600px,#b7b9e9 625px,#b7bcea 650px,#b8bfea 675px,#b8c2eb 700px,#b7c5eb 725px,#b7c9eb 750px,#b6ccec 775px,#b5cfec 800px,#b4d2ec 825px,#b2d5ec 850px,#b1d8ec 875px,#afdaec 900px,#aeddec 925px,#acdeec 950px,#abe0ec 975px,#a9e1ed 1000px,#a8e2ee 1025px,#a7e2ef 1050px,#a6e2f0 1075px,#a5e1f2 1100px,#a4e0f3 1125px,#a1dff5 1150px,#a1dff5 1175px,#a1dff5 1200px)"></div><div style="top:348px;background:linear-gradient(90deg,#86ebfc 0px,#86ebfc 25px,#86ebfc 50px,#8bdef9 75px,#8fd3f7 100px,#91c6f2 125px,#90baee 150px,#90b0ea 175px,#91a9e7 200px,#92a5e4 225px,#94a2e3 250px,#96a1e2 275px,#99a0e1 300px,#9ba1e1 325px,#9ea1e1 350px,#a1a2e1 375px,#a4a4e1 400px,#a7a5e2 425px,#a9a7e3 450px,#aca9e4 475px,#aeace4 500px,#afaee5 525px,#b1b0e6 550px,#b2b3e7 575px,#b3b6e7 600px,#b4b9e8 625px,#b5bce9 650px,#b5bfe9 675px,#b5c2ea 700px,#b5c6ea 725px,#b5c9ea 750px,#b4cceb 775px,#b3d0eb 800px,#b2d3eb 825px,#b1d6eb 850px,#b0d8eb 875px,#aedbeb 900px,#adddeb 925px,#abdfec 950px,#aae0ec 975px,#a8e1ed 1000px,#a7e2ee 1025px,#a6e2ef 1050px,#a5e2f0 1075px,#a4e1f2 1100px,#a2e0f4 1125px,#a0def5 1150px,#a0def5 1175px,#a0def5 1200px)"></div><div style="top:360px;background:linear-gradient(90deg,#86ecfb 0px,#86ecfb 25px,#86ecfb 50px,#8bddf9 75px,#8fd0f6 100px,#91c2f2 125px,#90b4ed 150px,#8faae9 175px,#8fa4e5 200px,#90a1e3 225px,#919fe1 250px,#939ee0 275px,#959edf 300px,#989edf 325px,#9b9fdf 350px,#9ea1df 375px,#a0a2e0 400px,#a3a4e1 425px,#a6a6e1 450px,#a8a9e2 475px,#aaabe3 500px,#acaee4 525px,#adb0e5 550px,#afb3e6 575px,#b0b6e6 600px,#b1b9e7 625px,#b2bce8 650px,#b2bfe8 675px,#b3c3e9 700px,#b3c6e9 725px,#b2cae9 750px,#b2cdea 775px,#b2d0ea 800px,#b1d3ea 825px,#b0d6ea 850px,#afd9eb 875px,#addbeb 900px,#acddeb 925px,#aadfeb 950px,#a9e0ec 975px,#a7e1ed 1000px,#a5e2ee 1025px,#a4e2ef 1050px,#a3e2f1 1075px,#a2e1f3 1100px,#a1e0f4 1125px,#9edef6 1150px,#9edef6 1175px,#9edef6 1200px)"></div><div style="top:372px;background:linear-gradient(90deg,#85ecfb 0px,#85ecfb 25px,#85ecfb 50px,#8adcf9 75px,#8fccf5 100px,#91bbf1 125px,#8fadec 150px,#8ea4e7 175px,#8d9fe4 200px,#8d9ce1 225px,#8e9bdf 250px,#909bde 275px,#929bde 300px,#959cdd 325px,#979ddd 350px,#9a9fde 375px,#9da1de 400px,#9fa3df 425px,#a2a6e0 450px,#a4a8e1 475px,#a6abe2 500px,#a8ade3 525px,#aab0e4 550px,#abb3e4 575px,#adb6e5 600px,#aeb9e6 625px,#afbde6 650px,#afc0e7 675px,#b0c3e8 700px,#b0c7e8 725px,#b0cae9 750px,#b0cde9 775px,#b0d1e9 800px,#afd4ea 825px,#aed7ea 850px,#add9ea 875px,#acdcea 900px,#abdeeb 925px,#a9dfeb 950px,#a7e1ec 975px,#a6e2ec 1000px,#a4e2ed 1025px,#a2e2ef 1050px,#a1e2f1 1075px,#a0e1f3 1100px,#9fe0f5 1125px,#9cdef6 1150px,#9cdef6 1175px,#9cdef6 1200px)"></div><div style="top:384px;background:linear-gradient(90deg,#86ebfb 0px,#86ebfb 25px,#86ebfb 50px,#8bd7f8 75px,#90c4f5 100px,#91b1f0 125px,#8fa4eb 150px,#8c9de6 175px,#8b9ae2 200px,#8b98e0 225px,#8b97de 250px,#8d98dd 275px,#8f98dc 300px,#919adc 325px,#949cdc 350px,#969edc 375px,#99a0dd 400px,#9ba2de 425px,#9ea5df 450px,#a0a7e0 475px,#a2aae1 500px,#a4ade1 525px,#a6b0e2 550px,#a8b3e3 575px,#a9b6e4 600px,#abbae5 625px,#acbde6 650px,#acc0e6 675px,#adc4e7 700px,#aec7e7 725px,#aecbe8 750px,#aecee8 775px,#aed1e9 800px,#aed4e9 825px,#add7e9 850px,#acdaea 875px,#abdcea 900px,#aadeea 925px,#a8e0eb 950px,#a6e1eb 975px,#a4e2ec 1000px,#a2e2ed 1025px,#a0e2ef 1050px,#9fe2f1 1075px,#9de1f3 1100px,#9ce0f5 1125px,#9addf7 1150px,#9addf7 1175px,#9addf7 1200px)"></div><div style="top:396px;background:linear-gradient(90deg,#86e9fb 0px,#86e9fb 25px,#86e9fb 50px,#8cd0f8 75px,#91b6f4 100px,#91a4ef 125px,#8d9be9 150px,#8a96e5 175px,#8994e1 200px,#8893de 225px,#8894dc 250px,#8a95db 275px,#8b96da 300px,#8e98da 325px,#909ada 350px,#939cdb 375px,#959fdb 400px,#98a1dc 425px,#9aa4dd 450px,#9ca7de 475px,#9faadf 500px,#a1ade0 525px,#a3b0e1 550px,#a4b3e2 575px,#a6b7e3 600px,#a7bae4 625px,#a8bde5 650px,#aac1e5 675px,#aac4e6 700px,#abc8e6 725px,#accbe7 750px,#accee7 775px,#acd2e8 800px,#acd5e8 825px,#acd8e9 850px,#abdae9 875px,#aaddea 900px,#a9dfea 925px,#a7e0eb 950px,#a5e1eb 975px,#a3e2ec 1000px,#a1e2ed 1025px,#9ee2ef 1050px,#9ce1f1 1075px,#9ae1f3 1100px,#99dff6 1125px,#97dcf7 1150px,#97dcf7 1175px,#97dcf7 1200px)"></div><div style="top:408px;background:linear-gradient(90deg,#89e3fa 0px,#89e3fa 25px,#89e3fa 50px,#8fc6f8 75px,#93a6f4 100px,#9097ee 125px,#8c91e8 150px,#888fe3 175px,#868fdf 200px,#858fdd 225px,#8590db 250px,#8692d9 275px,#8894d9 300px,#8a96d9 325px,#8c98d9 350px,#8f9bd9 375px,#919eda 400px,#94a1db 425px,#96a4dc 450px,#99a7dd 475px,#9baade 500px,#9daddf 525px,#9fb0e0 550px,#a1b4e1 575px,#a2b7e2 600px,#a4bae3 625px,#a5bee4 650px,#a7c1e4 675px,#a8c5e5 700px,#a9c8e6 725px,#a9cce6 750px,#aacfe7 775px,#aad2e7 800px,#aad5e8 825px,#aad8e8 850px,#aadbe9 875px,#a9dde9 900px,#a8dfea 925px,#a6e0ea 950px,#a4e1eb 975px,#a2e2ec 1000px,#9fe2ed 1025px,#9ce2ef 1050px,#99e1f1 1075px,#97e0f3 1100px,#95def6 1125px,#93dbf8 1150px,#93dbf8 1175px,#93dbf8 1200px)"></div><div style="top:420px;background:linear-gradient(90deg,#8edbfb 0px,#8edbfb 25px,#8edbfb 50px,#92bbf8 75px,#9497f3 100px,#908bed 125px,#8a89e6 150px,#8689e1 175px,#838ade 200px,#828cdb 225px,#828ed9 250px,#8390d8 275px,#8592d7 300px,#8794d7 325px,#8997d7 350px,#8b9ad8 375px,#8e9dd9 400px,#90a0da 425px,#92a3db 450px,#95a7dc 475px,#97aadd 500px,#99adde 525px,#9bb1df 550px,#9db4e0 575px,#9fb7e1 600px,#a1bbe2 625px,#a2bee3 650px,#a4c2e4 675px,#a5c5e4 700px,#a6c9e5 725px,#a7cce6 750px,#a8d0e6 775px,#a9d3e7 800px,#a9d6e7 825px,#a9d9e8 850px,#a9dbe8 875px,#a8dde9 900px,#a7dfea 925px,#a5e1ea 950px,#a3e2eb 975px,#a1e2ec 1000px,#9de2ed 1025px,#9ae1ef 1050px,#97e0f1 1075px,#93dff4 1100px,#91ddf6 1125px,#8fdaf8 1150px,#8fdaf8 1175px,#8fdaf8 1200px)"></div><div style="top:432px;background:linear-gradient(90deg,#93d1fa 0px,#93d1fa 25px,#93d1fa 50px,#96b1f8 75px,#958ef2 100px,#8e82eb 125px,#8783e5 150px,#8384e0 175px,#8086dc 200px,#7f89da 225px,#7f8bd8 250px,#808dd7 275px,#8190d6 300px,#8393d6 325px,#8596d6 350px,#8899d7 375px,#8a9cd8 400px,#8ca0d9 425px,#8fa3da 450px,#91a6db 475px,#93aadc 500px,#95adde 525px,#98b1df 550px,#9ab4e0 575px,#9bb8e1 600px,#9dbbe1 625px,#9fbfe2 650px,#a1c2e3 675px,#a2c6e4 700px,#a4c9e4 725px,#a5cde5 750px,#a6d0e6 775px,#a7d3e6 800px,#a7d6e7 825px,#a8d9e8 850px,#a8dce8 875px,#a7dee9 900px,#a6e0ea 925px,#a4e1ea 950px,#a2e2eb 975px,#a0e2ec 1000px,#9ce2ed 1025px,#98e1ef 1050px,#94e0f1 1075px,#90def4 1100px,#8ddcf6 1125px,#8cd9f8 1150px,#8cd9f8 1175px,#8cd9f8 1200px)"></div><div style="top:444px;background:linear-gradient(90deg,#96c7fa 0px,#96c7fa 25px,#96c7fa 50px,#98a7f7 75px,#9488f1 100px,#8b7de9 125px,#847ee3 150px,#8080de 175px,#7d83db 200px,#7c86d8 225px,#7c89d6 250px,#7d8cd5 275px,#7e8fd5 300px,#8092d5 325px,#8295d5 350px,#8498d6 375px,#869cd7 400px,#899fd8 425px,#8ba3d9 450px,#8da6da 475px,#90aadc 500px,#92aedd 525px,#94b1de 550px,#96b5df 575px,#98b8e0 600px,#9abce1 625px,#9cbfe2 650px,#9ec3e2 675px,#a0c6e3 700px,#a1cae4 725px,#a3cde4 750px,#a4d1e5 775px,#a5d4e6 800px,#a6d7e7 825px,#a7d9e7 850px,#a7dce8 875px,#a6dee9 900px,#a5e0ea 925px,#a4e1ea 950px,#a2e2eb 975px,#9fe2ec 1000px,#9be2ed 1025px,#97e1ef 1050px,#92dff1 1075px,#8ddef4 1100px,#89dbf6 1125px,#88d7f8 1150px,#88d7f8 1175px,#88d7f8 1200px)"></div><div style="top:456px;background:linear-gradient(90deg,#99bbf9 0px,#99bbf9 25px,#99bbf9 50px,#999af6 75px,#9281ef 100px,#897ae8 125px,#817be2 150px,#7d7edd 175px,#7a81da 200px,#7984d7 225px,#7987d5 250px,#7a8ad4 275px,#7b8dd4 300px,#7c91d4 325px,#7e94d4 350px,#8098d5 375px,#839bd6 400px,#859fd7 425px,#87a3d8 450px,#8aa6da 475px,#8caadb 500px,#8eaedc 525px,#90b2dd 550px,#92b5de 575px,#95b9df 600px,#97bce0 625px,#99c0e1 650px,#9bc4e2 675px,#9dc7e3 700px,#9fcae3 725px,#a1cee4 750px,#a2d1e5 775px,#a4d4e6 800px,#a5d7e6 825px,#a6dae7 850px,#a6dce8 875px,#a6dee9 900px,#a5e0ea 925px,#a4e2eb 950px,#a1e2eb 975px,#9ee3ec 1000px,#9be2ee 1025px,#96e1ef 1050px,#90dff1 1075px,#8addf4 1100px,#86daf7 1125px,#85d6f9 1150px,#85d6f9 1175px,#85d6f9 1200px)"></div><div style="top:468px;background:linear-gradient(90deg,#9baaf8 0px,#9baaf8 25px,#9baaf8 50px,#998af4 75px,#907bee 100px,#8678e7 125px,#7e79e1 150px,#7a7cdc 175px,#787fd9 200px,#7783d6 225px,#7686d4 250px,#7789d3 275px,#788cd3 300px,#7990d3 325px,#7b94d3 350px,#7d97d4 375px,#7f9bd5 400px,#819fd6 425px,#84a3d8 450px,#86a7d9 475px,#88aada 500px,#8baedc 525px,#8db2dd 550px,#8fb6de 575px,#91b9df 600px,#94bde0 625px,#96c1e1 650px,#98c4e1 675px,#9ac8e2 700px,#9ccbe3 725px,#9fcee4 750px,#a0d1e5 775px,#a2d5e5 800px,#a4d7e6 825px,#a5dae7 850px,#a5dde8 875px,#a5dfe9 900px,#a5e0ea 925px,#a3e2eb 950px,#a1e3ec 975px,#9ee3ed 1000px,#9be2ee 1025px,#95e0f0 1050px,#8fdef2 1075px,#88dcf5 1100px,#83d8f7 1125px,#83d4f9 1150px,#83d4f9 1175px,#83d4f9 1200px)"></div><div style="top:480px;background:linear-gradient(90deg,#9d96f7 0px,#9d96f7 25px,#9d96f7 50px,#987bf3 75px,#8e77ed 100px,#8277e6 125px,#7b79e0 150px,#777cdb 175px,#757fd8 200px,#7482d5 225px,#7485d3 250px,#7488d2 275px,#758cd2 300px,#768fd2 325px,#7893d2 350px,#7a97d3 375px,#7c9bd4 400px,#7e9fd6 425px,#80a3d7 450px,#83a7d8 475px,#85abda 500px,#87afdb 525px,#89b3dc 550px,#8cb6de 575px,#8ebadf 600px,#90bedf 625px,#93c1e0 650px,#95c5e1 675px,#98c8e2 700px,#9acce3 725px,#9dcfe3 750px,#9fd2e4 775px,#a1d5e5 800px,#a2d8e6 825px,#a4dae7 850px,#a5dde8 875px,#a5dfe9 900px,#a5e1ea 925px,#a4e2eb 950px,#a2e3ec 975px,#9fe3ed 1000px,#9be2ef 1025px,#96e0f0 1050px,#8fdef2 1075px,#88dbf5 1100px,#82d7f7 1125px,#82d2f9 1150px,#82d2f9 1175px,#82d2f9 1200px)"></div><div style="top:492px;background:linear-gradient(90deg,#9f87f7 0px,#9f87f7 25px,#9f87f7 50px,#9775f3 75px,#8b76ed 100px,#8078e5 125px,#797adf 150px,#757cdb 175px,#737ed7 200px,#7281d4 225px,#7184d2 250px,#7188d1 275px,#728bd1 300px,#738fd1 325px,#7593d2 350px,#7797d2 375px,#799bd4 400px,#7b9fd5 425px,#7da3d7 450px,#7fa7d8 475px,#81abda 500px,#84afdb 525px,#86b3dc 550px,#89b7dd 575px,#8bbbde 600px,#8dbedf 625px,#90c2e0 650px,#93c5e1 675px,#95c9e2 700px,#98cce2 725px,#9bcfe3 750px,#9dd2e4 775px,#9fd5e5 800px,#a1d8e6 825px,#a3dbe7 850px,#a4dde8 875px,#a5dfe9 900px,#a5e1ea 925px,#a4e2eb 950px,#a2e3ec 975px,#a0e3ee 1000px,#9ce2ef 1025px,#97e0f1 1050px,#91ddf3 1075px,#89d9f5 1100px,#83d5f8 1125px,#83d0f9 1150px,#83d0f9 1175px,#83d0f9 1200px)"></div><div style="top:504px;background:linear-gradient(90deg,#9f7df7 0px,#9f7df7 25px,#9f7df7 50px,#9573f3 75px,#8977ed 100px,#7f79e6 125px,#777bdf 150px,#737dda 175px,#717fd6 200px,#6f81d4 225px,#6f84d2 250px,#6f88d1 275px,#708bd0 300px,#718fd0 325px,#7293d1 350px,#7497d2 375px,#759bd3 400px,#789fd5 425px,#7aa4d6 450px,#7ca8d8 475px,#7eacd9 500px,#81b0db 525px,#83b4dc 550px,#85b8dd 575px,#88bbde 600px,#8bbfdf 625px,#8dc2e0 650px,#90c6e1 675px,#93c9e1 700px,#96cce2 725px,#99d0e3 750px,#9cd3e4 775px,#9ed5e5 800px,#a1d8e6 825px,#a3dbe7 850px,#a4dde9 875px,#a5dfea 900px,#a5e1eb 925px,#a5e2ec 950px,#a3e3ed 975px,#a1e3ee 1000px,#9ee2f0 1025px,#99e0f1 1050px,#93dcf3 1075px,#8cd8f6 1100px,#86d3f8 1125px,#86cdf9 1150px,#86cdf9 1175px,#86cdf9 1200px)"></div><div style="top:516px;background:linear-gradient(90deg,#a077f6 0px,#a077f6 25px,#a077f6 50px,#9473f3 75px,#8877ed 100px,#7e7ae6 125px,#777ce0 150px,#727eda 175px,#6f7fd6 200px,#6e82d3 225px,#6d84d1 250px,#6d88d0 275px,#6d8bd0 300px,#6e8fd0 325px,#6f93d1 350px,#7197d2 375px,#739cd3 400px,#75a0d5 425px,#77a4d6 450px,#79a8d8 475px,#7badd9 500px,#7eb1db 525px,#80b4dc 550px,#82b8dd 575px,#85bcde 600px,#88bfdf 625px,#8bc3e0 650px,#8ec6e1 675px,#91cae1 700px,#94cde2 725px,#97d0e3 750px,#9ad3e4 775px,#9dd6e5 800px,#a0d8e7 825px,#a2dbe8 850px,#a4dde9 875px,#a5dfea 900px,#a6e1eb 925px,#a5e2ec 950px,#a4e3ee 975px,#a3e3ef 1000px,#a0e2f0 1025px,#9cdff2 1050px,#97dcf4 1075px,#90d6f6 1100px,#8cd0f8 1125px,#8bcbf9 1150px,#8bcbf9 1175px,#8bcbf9 1200px)"></div><div style="top:528px;background:linear-gradient(90deg,#a172f6 0px,#a172f6 25px,#a172f6 50px,#9372f3 75px,#8877ee 100px,#7e7ce7 125px,#767ee0 150px,#717fda 175px,#6e80d6 200px,#6c82d3 225px,#6b85d1 250px,#6b88d0 275px,#6b8bd0 300px,#6c8fd0 325px,#6d93d0 350px,#6e98d2 375px,#709cd3 400px,#72a0d4 425px,#74a5d6 450px,#76a9d8 475px,#78add9 500px,#7bb1db 525px,#7db5dc 550px,#80b9dd 575px,#82bdde 600px,#85c0df 625px,#88c3e0 650px,#8cc7e1 675px,#8fcae2 700px,#93cde2 725px,#96d0e3 750px,#99d3e4 775px,#9dd6e6 800px,#a0d8e7 825px,#a2dbe8 850px,#a4dde9 875px,#a6dfeb 900px,#a7e0ec 925px,#a7e2ed 950px,#a6e2ee 975px,#a5e2ef 1000px,#a2e1f1 1025px,#9fdff2 1050px,#9bdbf4 1075px,#96d5f6 1100px,#92cef8 1125px,#91c8f9 1150px,#91c8f9 1175px,#91c8f9 1200px)"></div><div style="top:540px;background:linear-gradient(90deg,#a070f6 0px,#a070f6 25px,#a070f6 50px,#9372f4 75px,#8778ee 100px,#7e7de7 125px,#767fe0 150px,#7080da 175px,#6d81d5 200px,#6b83d3 225px,#6985d1 250px,#6988d0 275px,#698cd0 300px,#6990d0 325px,#6a94d0 350px,#6c98d2 375px,#6d9dd3 400px,#6fa1d5 425px,#71a5d6 450px,#73aad8 475px,#76aeda 500px,#78b2db 525px,#7ab6dd 550px,#7dbade 575px,#80bddf 600px,#83c1e0 625px,#86c4e0 650px,#8ac7e1 675px,#8dcae2 700px,#91cde3 725px,#95d0e3 750px,#98d3e5 775px,#9cd6e6 800px,#9fd8e7 825px,#a2dae9 850px,#a5dcea 875px,#a6deeb 900px,#a8e0ec 925px,#a8e1ee 950px,#a8e2ef 975px,#a7e2f0 1000px,#a5e1f1 1025px,#a3dff3 1050px,#a0daf5 1075px,#9cd3f6 1100px,#99ccf8 1125px,#98c5f9 1150px,#98c5f9 1175px,#98c5f9 1200px)"></div><div style="top:552px;background:linear-gradient(90deg,#9e72f6 0px,#9e72f6 25px,#9e72f6 50px,#9273f4 75px,#8778ef 100px,#7d7de7 125px,#757fe0 150px,#7080d9 175px,#6c81d5 200px,#6a83d3 225px,#6886d1 250px,#6789d0 275px,#678cd0 300px,#6790d0 325px,#6894d1 350px,#6999d2 375px,#6b9dd3 400px,#6da2d5 425px,#6fa6d7 450px,#71abd8 475px,#73afda 500px,#76b3dc 525px,#78b7dd 550px,#7bbade 575px,#7ebedf 600px,#81c1e0 625px,#84c4e1 650px,#88c8e1 675px,#8ccbe2 700px,#90cee3 725px,#94d0e4 750px,#98d3e5 775px,#9bd6e6 800px,#9fd8e8 825px,#a2dae9 850px,#a5dcea 875px,#a7deec 900px,#a9dfed 925px,#a9e1ee 950px,#aae1ef 975px,#a9e2f1 1000px,#a8e1f2 1025px,#a7def3 1050px,#a5d9f5 1075px,#a2d2f7 1100px,#a0caf8 1125px,#9fc3f9 1150px,#9fc3f9 1175px,#9fc3f9 1200px)"></div><div style="top:564px;background:linear-gradient(90deg,#9c74f6 0px,#9c74f6 25px,#9c74f6 50px,#9175f4 75px,#8679ef 100px,#7c7de7 125px,#757fdf 150px,#6f81d9 175px,#6b82d5 200px,#6984d3 225px,#6787d1 250px,#668ad0 275px,#668dd0 300px,#6691d0 325px,#6695d1 350px,#6799d2 375px,#699ed4 400px,#6aa3d5 425px,#6ca7d7 450px,#6fabd9 475px,#71b0db 500px,#73b4dc 525px,#76b7de 550px,#78bbdf 575px,#7bbee0 600px,#7fc2e0 625px,#82c5e1 650px,#86c8e2 675px,#8acbe2 700px,#8ecee3 725px,#93d0e4 750px,#97d3e5 775px,#9bd5e7 800px,#9fd7e8 825px,#a3d9ea 850px,#a6dbeb 875px,#a8dded 900px,#aadfee 925px,#abe0ef 950px,#ace1f0 975px,#ace1f1 1000px,#abe0f3 1025px,#aaddf4 1050px,#a9d8f5 1075px,#a8d0f7 1100px,#a7c8f8 1125px,#a6c1f9 1150px,#a6c1f9 1175px,#a6c1f9 1200px)"></div><div style="top:576px;background:linear-gradient(90deg,#9976f6 0px,#9976f6 25px,#9976f6 50px,#8f77f4 75px,#857aee 100px,#7c7de6 125px,#747fde 150px,#6f81d9 175px,#6b83d6 200px,#6885d3 225px,#6687d2 250px,#658ad1 275px,#648ed1 300px,#6492d1 325px,#6496d1 350px,#659ad3 375px,#679fd4 400px,#68a4d6 425px,#6aa8d8 450px,#6dacda 475px,#6fb1db 500px,#71b5dd 525px,#74b8de 550px,#76bcdf 575px,#79bfe0 600px,#7dc2e1 625px,#81c5e2 650px,#85c8e2 675px,#89cbe3 700px,#8ecee4 725px,#92d0e5 750px,#97d3e6 775px,#9bd5e7 800px,#9fd7e9 825px,#a3d9eb 850px,#a7dbec 875px,#aadced 900px,#acdeef 925px,#addff0 950px,#aee0f1 975px,#aee0f2 1000px,#aedff3 1025px,#aeddf5 1050px,#aed7f6 1075px,#aecff7 1100px,#adc7f8 1125px,#acbff8 1150px,#acbff8 1175px,#acbff8 1200px)"></div><div style="top:588px;background:linear-gradient(90deg,#9678f6 0px,#9678f6 25px,#9678f6 50px,#8d79f3 75px,#847aed 100px,#7b7de5 125px,#747fdd 150px,#6f81d9 175px,#6b83d6 200px,#6886d4 225px,#6688d3 250px,#648bd2 275px,#638fd1 300px,#6393d1 325px,#6397d2 350px,#649bd3 375px,#65a0d5 400px,#67a5d7 425px,#69a9d9 450px,#6baddb 475px,#6db2dc 500px,#70b6de 525px,#72b9df 550px,#75bde0 575px,#78c0e1 600px,#7bc3e2 625px,#7fc6e3 650px,#84c8e3 675px,#88cbe4 700px,#8dcee4 725px,#92d0e5 750px,#96d2e7 775px,#9bd4e8 800px,#a0d6ea 825px,#a4d8eb 850px,#a8daed 875px,#abdbee 900px,#addcef 925px,#afdef1 950px,#b0dff2 975px,#b1dff3 1000px,#b1def4 1025px,#b2dcf5 1050px,#b2d7f6 1075px,#b3cef7 1100px,#b3c5f8 1125px,#b3bdf8 1150px,#b3bdf8 1175px,#b3bdf8 1200px)"></div><div style="top:600px;background:linear-gradient(90deg,#9379f5 0px,#9379f5 25px,#9379f5 50px,#8b79f2 75px,#837bed 100px,#7b7de5 125px,#747fde 150px,#6f81da 175px,#6b84d7 200px,#6886d5 225px,#6589d4 250px,#638cd3 275px,#6290d2 300px,#6194d2 325px,#6198d3 350px,#629cd4 375px,#63a1d6 400px,#65a6d8 425px,#67aada 450px,#69afdc 475px,#6cb3dd 500px,#6eb6df 525px,#71bae0 550px,#73bde1 575px,#76c0e2 600px,#7ac3e3 625px,#7ec6e4 650px,#83c8e4 675px,#88cbe4 700px,#8dcee5 725px,#91d0e6 750px,#96d2e8 775px,#9cd4e9 800px,#a1d6eb 825px,#a5d7ec 850px,#a9d9ee 875px,#addaef 900px,#afdbf0 925px,#b1dcf2 950px,#b2ddf3 975px,#b3def4 1000px,#b4ddf5 1025px,#b5dbf6 1050px,#b6d6f7 1075px,#b8cef7 1100px,#b9c4f8 1125px,#b8bcf8 1150px,#b8bcf8 1175px,#b8bcf8 1200px)"></div><div style="top:612px;background:linear-gradient(90deg,#917af4 0px,#917af4 25px,#917af4 50px,#8a7af2 75px,#827bee 100px,#7b7de6 125px,#747fdf 150px,#6f82db 175px,#6b85d9 200px,#6887d7 225px,#658ad5 250px,#638ed4 275px,#6191d4 300px,#6195d3 325px,#6099d4 350px,#619ed5 375px,#62a2d7 400px,#64a7d9 425px,#66abdb 450px,#68b0dd 475px,#6ab4df 500px,#6db7e0 525px,#6fbbe1 550px,#72bee2 575px,#75c1e3 600px,#79c3e4 625px,#7ec6e5 650px,#82c8e5 675px,#87cbe5 700px,#8ccde6 725px,#92cfe7 750px,#97d1e8 775px,#9cd3ea 800px,#a2d5ec 825px,#a7d6ee 850px,#abd7ef 875px,#aed8f0 900px,#b1daf1 925px,#b3dbf2 950px,#b4dcf3 975px,#b5dcf5 1000px,#b7dcf6 1025px,#b8daf6 1050px,#bad5f7 1075px,#bccdf8 1100px,#bec3f8 1125px,#bebaf8 1150px,#bebaf8 1175px,#bebaf8 1200px)"></div><div style="top:624px;background:linear-gradient(90deg,#8f7bf3 0px,#8f7bf3 25px,#8f7bf3 50px,#897af2 75px,#827cef 100px,#7b7ee9 125px,#7580e2 150px,#7083dd 175px,#6c86db 200px,#6888d9 225px,#658cd7 250px,#638fd6 275px,#6192d5 300px,#6096d5 325px,#5f9ad5 350px,#609fd7 375px,#61a4d9 400px,#63a8db 425px,#65addd 450px,#67b1de 475px,#6ab5e0 500px,#6cb8e1 525px,#6fbce3 550px,#71bfe4 575px,#74c1e5 600px,#78c4e5 625px,#7dc6e6 650px,#82c8e6 675px,#88cbe7 700px,#8dcde7 725px,#92cfe8 750px,#97d1ea 775px,#9dd2eb 800px,#a3d4ed 825px,#a8d5ef 850px,#add6f0 875px,#b0d7f1 900px,#b3d8f2 925px,#b5d9f3 950px,#b7daf4 975px,#b8daf5 1000px,#b9daf6 1025px,#bbd9f7 1050px,#bdd4f8 1075px,#c0cbf8 1100px,#c2c1f8 1125px,#c2b8f8 1150px,#c2b8f8 1175px,#c2b8f8 1200px)"></div><div style="top:636px;background:linear-gradient(90deg,#8d7cf3 0px,#8d7cf3 25px,#8d7cf3 50px,#877cf2 75px,#827ef0 100px,#7c80eb 125px,#7682e4 150px,#7184e0 175px,#6d87dd 200px,#698adb 225px,#668dd9 250px,#6390d8 275px,#6194d7 300px,#5f97d6 325px,#5f9cd7 350px,#5fa0d8 375px,#60a5da 400px,#62aadc 425px,#64aede 450px,#66b2e0 475px,#69b6e1 500px,#6bb9e3 525px,#6ebde4 550px,#71bfe5 575px,#74c2e6 600px,#78c4e7 625px,#7dc6e7 650px,#83c8e8 675px,#88cae8 700px,#8dcce8 725px,#93cee9 750px,#98d0eb 775px,#9ed1ed 800px,#a4d2ef 825px,#aad3f0 850px,#afd4f1 875px,#b3d5f2 900px,#b5d6f3 925px,#b7d7f4 950px,#b9d7f5 975px,#bad8f6 1000px,#bcd8f7 1025px,#bdd7f8 1050px,#c0d3f9 1075px,#c4caf9 1100px,#c6bff8 1125px,#c6b7f8 1150px,#c6b7f8 1175px,#c6b7f8 1200px)"></div><div style="top:648px;background:linear-gradient(90deg,#8b7ef2 0px,#8b7ef2 25px,#8b7ef2 50px,#867ef2 75px,#827ff1 100px,#7d81ed 125px,#7783e6 150px,#7286e2 175px,#6e88df 200px,#6a8bdd 225px,#668edb 250px,#6392da 275px,#6195d9 300px,#5f99d8 325px,#5e9dd9 350px,#5fa2da 375px,#60a6dc 400px,#62abde 425px,#64afe0 450px,#66b3e2 475px,#69b7e3 500px,#6bbae4 525px,#6ebde5 550px,#71c0e6 575px,#74c2e8 600px,#78c4e8 625px,#7dc6e9 650px,#83c8e9 675px,#89caea 700px,#8eccea 725px,#94cdeb 750px,#99cfed 775px,#a0d0ee 800px,#a6d1f0 825px,#acd2f1 850px,#b1d3f3 875px,#b5d3f4 900px,#b8d4f4 925px,#bad4f5 950px,#bbd5f6 975px,#bcd5f7 1000px,#bed6f8 1025px,#c0d5f9 1050px,#c3d1f9 1075px,#c7c8f9 1100px,#cabdf8 1125px,#cab5f7 1150px,#cab5f7 1175px,#cab5f7 1200px)"></div><div style="top:660px;background:linear-gradient(90deg,#897ff1 0px,#897ff1 25px,#897ff1 50px,#8580f1 75px,#8281f1 100px,#7d83ed 125px,#7885e8 150px,#7387e4 175px,#6f8ae1 200px,#6a8cdf 225px,#6790dd 250px,#6393dc 275px,#6197db 300px,#5f9bda 325px,#5e9fdb 350px,#5ea3dc 375px,#60a8de 400px,#61ace0 425px,#64b0e2 450px,#66b4e3 475px,#69b8e5 500px,#6bbbe6 525px,#6ebee7 550px,#71c1e8 575px,#74c3e9 600px,#79c4ea 625px,#7ec6eb 650px,#84c7eb 675px,#8ac9eb 700px,#90cbec 725px,#95cced 750px,#9bceee 775px,#a1cff0 800px,#a8d0f2 825px,#aed0f3 850px,#b3d1f4 875px,#b7d1f5 900px,#bad1f6 925px,#bcd2f6 950px,#bdd2f7 975px,#bfd2f8 1000px,#c0d3f8 1025px,#c2d2f9 1050px,#c5cefa 1075px,#c9c7fa 1100px,#ccbcf8 1125px,#cdb3f7 1150px,#cdb3f7 1175px,#cdb3f7 1200px)"></div><div style="top:672px;background:linear-gradient(90deg,#8781f0 0px,#8781f0 25px,#8781f0 50px,#8482f0 75px,#8184ef 100px,#7e85ed 125px,#7987e9 150px,#7489e6 175px,#6f8be3 200px,#6b8ee1 225px,#6791e0 250px,#6495de 275px,#6199de 300px,#5f9ddd 325px,#5ea1dd 350px,#5ea5df 375px,#60aae1 400px,#61aee2 425px,#64b2e4 450px,#66b5e5 475px,#69b9e7 500px,#6cbce8 525px,#6fbfe9 550px,#72c1ea 575px,#75c3eb 600px,#79c4ec 625px,#7fc6ed 650px,#86c7ed 675px,#8cc8ee 700px,#92c9ee 725px,#97cbef 750px,#9dccf0 775px,#a3cdf2 800px,#aacef3 825px,#b1cff5 850px,#b6cff5 875px,#bacff6 900px,#bccff7 925px,#becff7 950px,#c0cff8 975px,#c1cff8 1000px,#c2d0f9 1025px,#c4cffa 1050px,#c7ccfa 1075px,#cbc4fa 1100px,#cebaf8 1125px,#cfb2f7 1150px,#cfb2f7 1175px,#cfb2f7 1200px)"></div><div style="top:684px;background:linear-gradient(90deg,#8583ef 0px,#8583ef 25px,#8583ef 50px,#8284ef 75px,#8186ee 100px,#7e87ed 125px,#7988ea 150px,#758ae8 175px,#708de6 200px,#6c8fe4 225px,#6893e2 250px,#6497e1 275px,#629be0 300px,#5f9fe0 325px,#5ea3e1 350px,#5fa7e2 375px,#60abe3 400px,#62afe5 425px,#64b3e6 450px,#67b6e7 475px,#6abae8 500px,#6dbde9 525px,#70c0ea 550px,#73c2eb 575px,#77c3ec 600px,#7bc5ed 625px,#81c5ee 650px,#88c6ef 675px,#8ec7f0 700px,#94c8f1 725px,#9ac9f2 750px,#9fcbf3 775px,#a6ccf4 800px,#adccf5 825px,#b4cdf6 850px,#b9cdf7 875px,#bccdf7 900px,#bfcdf8 925px,#c0ccf8 950px,#c2ccf8 975px,#c3ccf9 1000px,#c4ccf9 1025px,#c5ccfa 1050px,#c8c9fa 1075px,#ccc2f9 1100px,#cfb9f7 1125px,#d0b1f6 1150px,#d0b1f6 1175px,#d0b1f6 1200px)"></div><div style="top:696px;background:linear-gradient(90deg,#8385ee 0px,#8385ee 25px,#8385ee 50px,#8086ed 75px,#7f87ed 100px,#7d89ed 125px,#798aeb 150px,#758ce9 175px,#718ee8 200px,#6d91e6 225px,#6994e4 250px,#6598e3 275px,#629ce3 300px,#60a1e3 325px,#5fa5e4 350px,#5fa9e5 375px,#60ade6 400px,#62b1e7 425px,#65b4e8 450px,#67b7e9 475px,#6abbea 500px,#6ebdeb 525px,#71c0ec 550px,#75c2ed 575px,#79c4ee 600px,#7dc5ef 625px,#83c5f0 650px,#8ac5f2 675px,#91c6f3 700px,#97c6f4 725px,#9dc7f4 750px,#a2c9f5 775px,#a9caf6 800px,#b0caf7 825px,#b6cbf8 850px,#bbcbf8 875px,#becaf9 900px,#c1caf9 925px,#c3c9f9 950px,#c4c9f9 975px,#c5c8f9 1000px,#c6c9fa 1025px,#c7c8fa 1050px,#c9c6fa 1075px,#cdc0f9 1100px,#d0b8f7 1125px,#d2b0f6 1150px,#d2b0f6 1175px,#d2b0f6 1200px)"></div><div style="top:708px;background:linear-gradient(90deg,#8187ed 0px,#8187ed 25px,#8187ed 50px,#7e88ec 75px,#7e89ed 100px,#7c8aec 125px,#798cec 150px,#768deb 175px,#7290e9 200px,#6e92e8 225px,#6a96e7 250px,#669ae6 275px,#639ee6 300px,#61a3e6 325px,#60a7e7 350px,#60abe8 375px,#61afe8 400px,#63b2e9 425px,#65b5ea 450px,#68b8eb 475px,#6bbbec 500px,#6fbeed 525px,#73c0ee 550px,#77c3ee 575px,#7bc4ef 600px,#80c4f1 625px,#86c4f2 650px,#8cc4f4 675px,#93c4f5 700px,#9ac4f7 725px,#9fc6f7 750px,#a5c7f8 775px,#abc8f8 800px,#b3c8f9 825px,#b9c9f9 850px,#bec9fa 875px,#c1c8fa 900px,#c3c8fa 925px,#c5c7fa 950px,#c6c6fa 975px,#c7c5fa 1000px,#c8c5fa 1025px,#c9c5fa 1050px,#cbc2fa 1075px,#cebdf8 1100px,#d1b6f6 1125px,#d3aff5 1150px,#d3aff5 1175px,#d3aff5 1200px)"></div><div style="top:720px;background:linear-gradient(90deg,#7f89ec 0px,#7f89ec 25px,#7f89ec 50px,#7d89ec 75px,#7c8aec 100px,#7b8cec 125px,#798dec 150px,#768fec 175px,#7291eb 200px,#6e94ea 225px,#6a98e9 250px,#679ce8 275px,#64a0e8 300px,#62a5e9 325px,#61a9ea 350px,#61adea 375px,#62b0eb 400px,#64b3ec 425px,#66b6ed 450px,#69b9ed 475px,#6dbcee 500px,#70beef 525px,#74c1ef 550px,#79c3f0 575px,#7dc4f1 600px,#82c4f3 625px,#88c4f4 650px,#8fc4f6 675px,#96c3f8 700px,#9cc3f9 725px,#a2c4fa 750px,#a8c5fa 775px,#aec6fa 800px,#b5c7fb 825px,#bbc7fb 850px,#c0c6fb 875px,#c3c6fb 900px,#c5c5fb 925px,#c7c4fb 950px,#c8c3fa 975px,#c9c2fa 1000px,#cac2fa 1025px,#cbc1fa 1050px,#cdbff9 1075px,#d0baf8 1100px,#d2b4f6 1125px,#d4adf5 1150px,#d4adf5 1175px,#d4adf5 1200px)"></div><div style="top:732px;background:linear-gradient(90deg,#7f8aec 0px,#7f8aec 25px,#7f8aec 50px,#7c8aec 75px,#7c8bec 100px,#7b8ded 125px,#788eed 150px,#7690ec 175px,#7292ec 200px,#6f95eb 225px,#6b99ea 250px,#679dea 275px,#65a1ea 300px,#63a6eb 325px,#62aaec 350px,#62aeec 375px,#63b1ed 400px,#65b4ed 425px,#67b7ee 450px,#6abaef 475px,#6ebcf0 500px,#71bff0 525px,#76c1f1 550px,#7ac3f2 575px,#7fc4f3 600px,#84c4f4 625px,#8ac3f6 650px,#90c3f8 675px,#97c2f9 700px,#9ec2fb 725px,#a4c3fb 750px,#aac4fc 775px,#b0c5fc 800px,#b7c5fc 825px,#bdc5fc 850px,#c1c5fc 875px,#c4c4fc 900px,#c7c3fc 925px,#c8c2fb 950px,#cac1fb 975px,#cbc0fb 1000px,#ccc0fa 1025px,#cdbffa 1050px,#cfbdf9 1075px,#d1b8f8 1100px,#d3b3f6 1125px,#d5acf5 1150px,#d5acf5 1175px,#d5acf5 1200px)"></div><div style="top:744px;background:linear-gradient(90deg,#7f8aec 0px,#7f8aec 25px,#7f8aec 50px,#7c8aec 75px,#7c8bec 100px,#7b8ded 125px,#788eed 150px,#7690ec 175px,#7292ec 200px,#6f95eb 225px,#6b99ea 250px,#679dea 275px,#65a1ea 300px,#63a6eb 325px,#62aaec 350px,#62aeec 375px,#63b1ed 400px,#65b4ed 425px,#67b7ee 450px,#6abaef 475px,#6ebcf0 500px,#71bff0 525px,#76c1f1 550px,#7ac3f2 575px,#7fc4f3 600px,#84c4f4 625px,#8ac3f6 650px,#90c3f8 675px,#97c2f9 700px,#9ec2fb 725px,#a4c3fb 750px,#aac4fc 775px,#b0c5fc 800px,#b7c5fc 825px,#bdc5fc 850px,#c1c5fc 875px,#c4c4fc 900px,#c7c3fc 925px,#c8c2fb 950px,#cac1fb 975px,#cbc0fb 1000px,#ccc0fa 1025px,#cdbffa 1050px,#cfbdf9 1075px,#d1b8f8 1100px,#d3b3f6 1125px,#d5acf5 1150px,#d5acf5 1175px,#d5acf5 1200px)"></div><div style="top:756px;background:linear-gradient(90deg,#7f8aec 0px,#7f8aec 25px,#7f8aec 50px,#7c8aec 75px,#7c8bec 100px,#7b8ded 125px,#788eed 150px,#7690ec 175px,#7292ec 200px,#6f95eb 225px,#6b99ea 250px,#679dea 275px,#65a1ea 300px,#63a6eb 325px,#62aaec 350px,#62aeec 375px,#63b1ed 400px,#65b4ed 425px,#67b7ee 450px,#6abaef 475px,#6ebcf0 500px,#71bff0 525px,#76c1f1 550px,#7ac3f2 575px,#7fc4f3 600px,#84c4f4 625px,#8ac3f6 650px,#90c3f8 675px,#97c2f9 700px,#9ec2fb 725px,#a4c3fb 750px,#aac4fc 775px,#b0c5fc 800px,#b7c5fc 825px,#bdc5fc 850px,#c1c5fc 875px,#c4c4fc 900px,#c7c3fc 925px,#c8c2fb 950px,#cac1fb 975px,#cbc0fb 1000px,#ccc0fa 1025px,#cdbffa 1050px,#cfbdf9 1075px,#d1b8f8 1100px,#d3b3f6 1125px,#d5acf5 1150px,#d5acf5 1175px,#d5acf5 1200px)"></div><div style="top:768px;background:linear-gradient(90deg,#7f8aec 0px,#7f8aec 25px,#7f8aec 50px,#7c8aec 75px,#7c8bec 100px,#7b8ded 125px,#788eed 150px,#7690ec 175px,#7292ec 200px,#6f95eb 225px,#6b99ea 250px,#679dea 275px,#65a1ea 300px,#63a6eb 325px,#62aaec 350px,#62aeec 375px,#63b1ed 400px,#65b4ed 425px,#67b7ee 450px,#6abaef 475px,#6ebcf0 500px,#71bff0 525px,#76c1f1 550px,#7ac3f2 575px,#7fc4f3 600px,#84c4f4 625px,#8ac3f6 650px,#90c3f8 675px,#97c2f9 700px,#9ec2fb 725px,#a4c3fb 750px,#aac4fc 775px,#b0c5fc 800px,#b7c5fc 825px,#bdc5fc 850px,#c1c5fc 875px,#c4c4fc 900px,#c7c3fc 925px,#c8c2fb 950px,#cac1fb 975px,#cbc0fb 1000px,#ccc0fa 1025px,#cdbffa 1050px,#cfbdf9 1075px,#d1b8f8 1100px,#d3b3f6 1125px,#d5acf5 1150px,#d5acf5 1175px,#d5acf5 1200px)"></div><div style="top:780px;background:linear-gradient(90deg,#7f8aec 0px,#7f8aec 25px,#7f8aec 50px,#7c8aec 75px,#7c8bec 100px,#7b8ded 125px,#788eed 150px,#7690ec 175px,#7292ec 200px,#6f95eb 225px,#6b99ea 250px,#679dea 275px,#65a1ea 300px,#63a6eb 325px,#62aaec 350px,#62aeec 375px,#63b1ed 400px,#65b4ed 425px,#67b7ee 450px,#6abaef 475px,#6ebcf0 500px,#71bff0 525px,#76c1f1 550px,#7ac3f2 575px,#7fc4f3 600px,#84c4f4 625px,#8ac3f6 650px,#90c3f8 675px,#97c2f9 700px,#9ec2fb 725px,#a4c3fb 750px,#aac4fc 775px,#b0c5fc 800px,#b7c5fc 825px,#bdc5fc 850px,#c1c5fc 875px,#c4c4fc 900px,#c7c3fc 925px,#c8c2fb 950px,#cac1fb 975px,#cbc0fb 1000px,#ccc0fa 1025px,#cdbffa 1050px,#cfbdf9 1075px,#d1b8f8 1100px,#d3b3f6 1125px,#d5acf5 1150px,#d5acf5 1175px,#d5acf5 1200px)"></div></div></div>
<div class="card"></div>
<svg class="ov" width="1100" height="687" viewBox="0 0 1100 687" font-family="Liberation Sans, Arial, sans-serif">
<text x="134.5" y="144.5" font-size="23" font-weight="bold" fill="#2d2d2d" textLength="405" lengthAdjust="spacingAndGlyphs">Klicks bis zur vollständigen Ablehnung</text>
<g font-size="16" fill="#333">
<text x="136" y="172" textLength="802" lengthAdjust="spacingAndGlyphs">Wir haben die Cookie-Banner der 100 reichweitenstärksten Websites in Deutschland untersucht. Die Visit-Zahlen</text>
<text x="135.5" y="190.5" textLength="760" lengthAdjust="spacingAndGlyphs">entsprechen dem IVW-Ranking aus dem Juni 2022. Den Ablauf der Cookie-Einwilligung haben wir händisch</text>
<text x="135.5" y="208.7" textLength="813" lengthAdjust="spacingAndGlyphs">untersucht. Nicht untersucht haben wir, ob sich die jeweiligen Seiten an die Einstellungen der Nutzer:innen halten.</text>
</g>
<text x="135.2" y="316.2" font-size="14.5" fill="#999" textLength="16.8" lengthAdjust="spacingAndGlyphs">20</text>
<line x1="156" y1="311.5" x2="956" y2="311.5" stroke="#e4e4e4" stroke-width="1"/>
<g fill="#0a9cff">
<rect x="165.76" y="331" width="43" height="80"/>
<rect x="227.30" y="251" width="43" height="160"/>
<rect x="288.84" y="401" width="43" height="10"/>
<rect x="350.38" y="376" width="43" height="35"/>
<rect x="411.92" y="386" width="43" height="25"/>
<rect x="473.46" y="401" width="43" height="10"/>
<rect x="535.00" y="396" width="43" height="15"/>
<rect x="596.54" y="406" width="43" height="5"/>
<rect x="719.62" y="396" width="43" height="15"/>
<rect x="842.70" y="401" width="43" height="10"/>
<rect x="904.24" y="276" width="43" height="135"/>
</g>
<rect x="156" y="411" width="800" height="1" fill="#2a2a2a"/>
<g font-size="14.5" fill="#333" text-anchor="middle">
<text x="187.26" y="431.8">1</text>
<text x="248.80" y="431.8">2</text>
<text x="310.34" y="431.8">3</text>
<text x="371.88" y="431.8">4</text>
<text x="433.42" y="431.8">5</text>
<text x="494.96" y="431.8">6</text>
<text x="556.50" y="431.8">7</text>
<text x="618.04" y="431.8">8</text>
<text x="679.58" y="431.8">9</text>
<text x="741.12" y="431.8">10</text>
<text x="802.66" y="431.8">11</text>
<text x="864.20" y="431.8">12</text>
<text x="925.8" y="431.3" textLength="31" lengthAdjust="spacingAndGlyphs">nicht</text>
<text x="925.5" y="449.4" textLength="50" lengthAdjust="spacingAndGlyphs">möglich</text>
<text x="925.7" y="466.8" textLength="31" lengthAdjust="spacingAndGlyphs">ohne</text>
<text x="925.3" y="484.9" textLength="25" lengthAdjust="spacingAndGlyphs">Abo</text>
</g>
<g font-size="12.5" fill="#333">
<text x="134.5" y="520.5" textLength="796.5" lengthAdjust="spacingAndGlyphs">Stand der Untersuchung: 29. August 2022. Die Gestaltung und der Aufbau von Cookie-Bannern kann sich im Laufe der Zeit ändern. Sollten in</text>
<text x="135" y="536.6" textLength="432" lengthAdjust="spacingAndGlyphs">dieser Tabelle Fehler auffallen, Hinweise bitte an kontakt@netzpolitik.org.</text>
</g>
<text x="135" y="557.1" font-size="11.5" fill="#888" textLength="115.5" lengthAdjust="spacingAndGlyphs">Grafik: netzpolitik.org</text>
<clipPath id="lc"><rect x="100" y="623.4" width="140" height="23.6"/></clipPath><g clip-path="url(#lc)"><text transform="translate(100,645.9) scale(0.77,1)" x="7.6 29.5 64.6 99.5 122.5 144.9" y="0" font-size="44" font-weight="bold" fill="#fff" stroke="#fff" stroke-width="1">ignite</text></g>
<g fill="#fff">
<path d="M244.3 639.4 L250.2 630.4 L257.2 629.1 L251.6 639.4 Z"/>
<path d="M252.6 646.8 L271 646.8 L271.4 643.2 C276 638 280 630 280.8 620.8 C272 620.6 264 624.5 258.3 629.4 L252.2 639.2 Z"/>
<circle cx="271.3" cy="629.9" r="3.2" fill="#5a98dc" stroke="#5d7aa6" stroke-width="0.7"/>
<path d="M258.1 628.9 L252.1 639.3" fill="none" stroke="#5d7aa6" stroke-width="1.1"/>
<path d="M253.2 642.6 C256 637.5 260 635.6 262.5 636 C266.5 636.8 265.6 640.8 263 643 C261.8 644.2 260.6 645.2 259.4 646.6" fill="none" stroke="#5d7aa6" stroke-width="1.2"/>

</g>
<g font-size="22" fill="#f4faff">
<text x="321.5" y="644" textLength="196" lengthAdjust="spacingAndGlyphs">https://ignite.video</text>
<text x="761.6" y="644.5" textLength="231.5" lengthAdjust="spacingAndGlyphs">Source: netzpolitik.org</text>
</g>
</svg>
</body>
</html>
